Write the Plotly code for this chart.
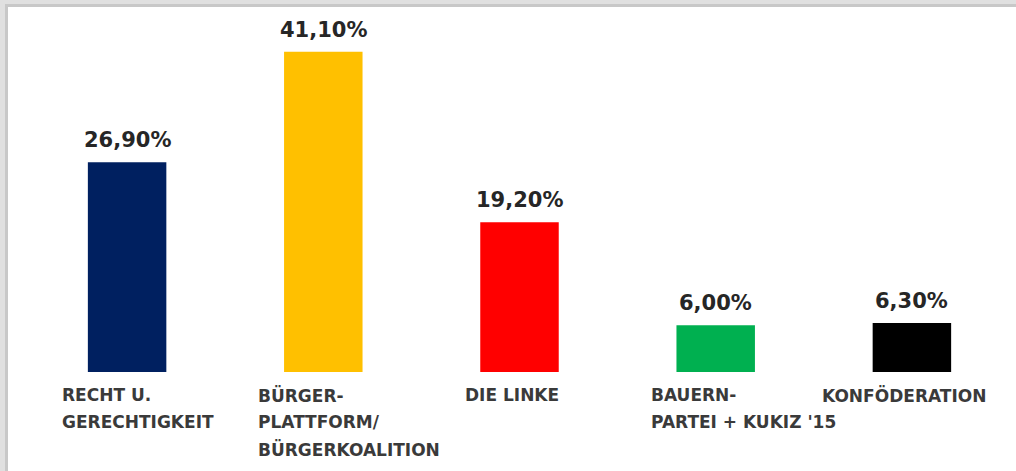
import plotly.graph_objects as go

# ---- data ----
categories = [
    "RECHT U.\nGERECHTIGKEIT",
    "BÜRGER-\nPLATTFORM/\nBÜRGERKOALITION",
    "DIE LINKE",
    "BAUERN-\nPARTEI + KUKIZ '15",
    "KONFÖDERATION",
]
values = [26.9, 41.1, 19.2, 6.0, 6.3]
bar_colors = ["#002060", "#FFC000", "#FF0000", "#00B050", "#000000"]

# ---- layout geometry ----
W, H = 1016, 471
ML, MR, MT, MB = 29, 6, 8, 99
PW, PH = W - ML - MR, H - MT - MB
FONT = "DejaVu Sans"


def px_x(p):
    return (p - ML) / PW


def px_y(p):
    return (H - MB - p) / PH


fig = go.Figure()
fig.add_trace(go.Bar(
    x=categories,
    y=values,
    marker=dict(color=bar_colors, line=dict(width=0)),
    hoverinfo="skip",
))

annotations = []
for c, v in zip(categories, values):
    label = f"{v:.2f}".replace(".", ",") + "%"
    annotations.append(dict(
        x=c, y=v, xref="x", yref="y", text=label, showarrow=False,
        xanchor="center", yanchor="middle", yshift=22,
        font=dict(family=FONT, size=21, color="#262626", weight="bold"),
    ))
    lines = c.split("\n")
    for i, ln in enumerate(lines):
        multi = len(lines) > 1
        annotations.append(dict(
            x=c, y=0, xref="x", yref="y", text=ln, showarrow=False,
            xanchor="left" if multi else "center",
            xshift=-67 if multi else -8,
            yanchor="middle", yshift=-(23 + 27 * i),
            font=dict(family=FONT, size=17, color="#3a3a3a", weight="bold"),
        ))

shapes = [
    # left frame strip
    dict(type="rect", xref="paper", yref="paper", layer="above",
         x0=px_x(0), x1=px_x(5), y0=px_y(H), y1=px_y(0),
         fillcolor="#e0e0e0", line=dict(width=0)),
    dict(type="rect", xref="paper", yref="paper", layer="above",
         x0=px_x(5), x1=px_x(8), y0=px_y(H), y1=px_y(4),
         fillcolor="#c8c8c8", line=dict(width=0)),
    # top frame strip
    dict(type="rect", xref="paper", yref="paper", layer="above",
         x0=px_x(0), x1=px_x(W), y0=px_y(4), y1=px_y(0),
         fillcolor="#e0e0e0", line=dict(width=0)),
    dict(type="rect", xref="paper", yref="paper", layer="above",
         x0=px_x(5), x1=px_x(W), y0=px_y(7), y1=px_y(4),
         fillcolor="#c8c8c8", line=dict(width=0)),
]

fig.update_layout(
    width=W, height=H,
    margin=dict(l=ML, r=MR, t=MT, b=MB, pad=0),
    paper_bgcolor="white", plot_bgcolor="white",
    bargap=0.6,
    showlegend=False,
    xaxis=dict(showticklabels=False, showgrid=False, zeroline=False,
               showline=False, ticks="", range=[-0.5, 4.5]),
    yaxis=dict(showticklabels=False, showgrid=False, zeroline=False,
               showline=False, ticks="", range=[0, 46.7]),
    annotations=annotations,
    shapes=shapes,
)

fig.write_html(
    "out.html",
    config={"displayModeBar": False},
    post_script="document.body.style.margin='0';document.body.style.overflow='hidden';",
)
